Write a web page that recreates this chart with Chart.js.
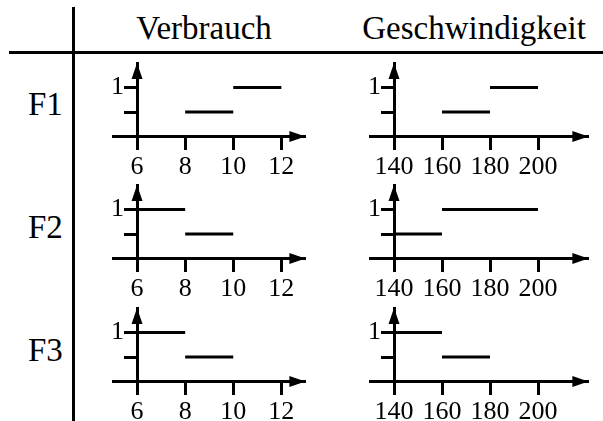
<!DOCTYPE html>
<html>
<head>
<meta charset="utf-8">
<script src="https://cdn.jsdelivr.net/npm/chart.js@4.4.0/dist/chart.umd.min.js"></script>
<style>
  html, body { margin: 0; padding: 0; background: #fff; }
  body { width: 603px; height: 421px; position: relative; overflow: hidden;
         font-family: "Liberation Serif", "DejaVu Serif", serif; color: #000; }
  .rule { position: absolute; background: #000; }
  .txt { position: absolute; font-size: 33px; line-height: 1; white-space: nowrap; }
  canvas { position: absolute; }
</style>
</head>
<body>
<div class="rule" style="left:72px; top:7px; width:3px; height:414px;"></div>
<div class="rule" style="left:9px; top:51px; width:594px; height:3px;"></div>
<div class="txt" id="h0"></div>
<div class="txt" id="h1"></div>
<div class="txt" id="r0"></div>
<div class="txt" id="r1"></div>
<div class="txt" id="r2"></div>
<canvas id="c00"></canvas>
<canvas id="c01"></canvas>
<canvas id="c10"></canvas>
<canvas id="c11"></canvas>
<canvas id="c20"></canvas>
<canvas id="c21"></canvas>
<script>
// data block
const columns = ['Verbrauch', 'Geschwindigkeit'];
const rowLabels = ['F1', 'F2', 'F3'];
const verbrauchTicks = [6, 8, 10, 12];
const geschwTicks = [140, 160, 180, 200];
const levelTicks = [0.5, 1];

// segments: [from, to, level]
const verbrauchF1 = [[8, 10, 0.5], [10, 12, 1]];
const verbrauchF2 = [[6, 8, 1], [8, 10, 0.5]];
const verbrauchF3 = [[6, 8, 1], [8, 10, 0.5]];
const geschwF1 = [[160, 180, 0.5], [180, 200, 1]];
const geschwF2 = [[140, 160, 0.5], [160, 200, 1]];
const geschwF3 = [[140, 160, 1], [160, 180, 0.5]];

const cells = [
    [verbrauchF1, geschwF1],
    [verbrauchF2, geschwF2],
    [verbrauchF3, geschwF3]
];

// layout
const rowAxisY = [136, 258.5, 381.5];
const colSetup = [
    { left: 85, width: 240, padL: 28, padR: 19.6, min: 5, max: 13, origin: 6, ticks: verbrauchTicks },
    { left: 345, width: 258, padL: 25, padR: 14.6, min: 130, max: 221, origin: 140, ticks: geschwTicks }
];
const FONT = "Liberation Serif";
const H = 135;       // canvas height
const ABOVE = 97.5;  // canvas top above the x axis

// header + row texts
const headCenters = [204, 474];
columns.forEach((t, i) => {
    const el = document.getElementById('h' + i);
    el.textContent = t;
    el.style.top = '12px';
    el.style.left = headCenters[i] + 'px';
    el.style.transform = 'translateX(-50%)';
});
rowLabels.forEach((t, i) => {
    const el = document.getElementById('r' + i);
    el.textContent = t;
    el.style.left = '28px';
    el.style.top = (rowAxisY[i] - 48) + 'px';
});

// arrows plugin
const arrows = {
    id: 'arrows',
    afterDraw(chart) {
        const {ctx, scales: {x, y}} = chart;
        const ox = x.getPixelForValue(chart.options.scales.y.position.x);
        const oy = y.getPixelForValue(0);
        const xt = x.getPixelForValue(x.max);
        const yt = y.getPixelForValue(y.max);
        ctx.save();
        ctx.fillStyle = '#000';
        ctx.beginPath();
        ctx.moveTo(xt, oy);
        ctx.lineTo(xt - 16, oy - 5.5);
        ctx.lineTo(xt - 16, oy + 5.5);
        ctx.closePath();
        ctx.fill();
        ctx.beginPath();
        ctx.moveTo(ox, yt);
        ctx.lineTo(ox - 5.5, yt + 16);
        ctx.lineTo(ox + 5.5, yt + 16);
        ctx.closePath();
        ctx.fill();
        ctx.restore();
    }
};

function makeCell(r, c) {
    const cs = colSetup[c];
    const canvas = document.getElementById('c' + r + c);
    canvas.width = cs.width;
    canvas.height = H;
    canvas.style.left = cs.left + 'px';
    canvas.style.top = (rowAxisY[r] - ABOVE) + 'px';
    const datasets = cells[r][c].map(s => ({
        data: [{x: s[0], y: s[2]}, {x: s[1], y: s[2]}],
        borderColor: '#000',
        borderWidth: 3,
        borderCapStyle: 'butt',
        pointRadius: 0,
        fill: false
    }));
    const axisStyle = {
        grid: { display: true, drawOnChartArea: false, drawTicks: true, tickLength: 12, tickWidth: 3, tickColor: '#000' },
        border: { display: true, width: 3, color: '#000' }
    };
    return new Chart(canvas, {
        type: 'line',
        data: { datasets: datasets },
        options: {
            responsive: false,
            animation: false,
            events: [],
            layout: { padding: { left: cs.padL, right: cs.padR, top: ABOVE - 73.5, bottom: H - ABOVE } },
            plugins: { legend: { display: false }, tooltip: { enabled: false } },
            scales: {
                x: {
                    type: 'linear', min: cs.min, max: cs.max,
                    position: { y: 0 },
                    afterBuildTicks: s => { s.ticks = cs.ticks.map(v => ({ value: v })); },
                    ticks: { color: '#000', padding: 3, maxRotation: 0, autoSkip: false,
                             font: { family: FONT, size: 26 } },
                    ...axisStyle
                },
                y: {
                    type: 'linear', min: 0, max: 1.5,
                    position: { x: cs.origin },
                    afterBuildTicks: s => { s.ticks = levelTicks.map(v => ({ value: v })); },
                    // label sits at the axis line itself, trailing spaces push it past the tick mark
                    ticks: { color: '#000', padding: 0, autoSkip: false,
                             callback: v => (v === 1 ? '1  ' : ''),
                             font: { family: FONT, size: 26 } },
                    ...axisStyle
                }
            }
        },
        plugins: [arrows]
    });
}

for (let r = 0; r < 3; r++) {
    for (let c = 0; c < 2; c++) makeCell(r, c);
}
</script>
</body>
</html>
